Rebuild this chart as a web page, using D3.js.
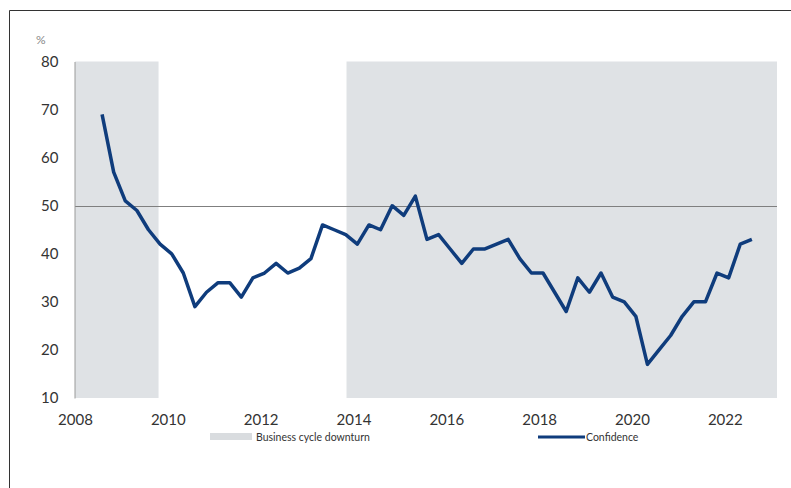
<!DOCTYPE html>
<html>
<head>
<meta charset="utf-8">
<script src="https://cdn.jsdelivr.net/npm/d3@7"></script>
<style>
  html, body { margin: 0; padding: 0; background: #fff; }
  svg { display: block; }
  text { font-family: Lato, "Open Sans", sans-serif; }
</style>
</head>
<body>
<svg id="chart" width="791" height="488"></svg>
<script>
// ---- data ----
const startYear = 2008 + 7 / 12;           // first quarterly observation (Q3 2008)
const confidence = [
  69, 57, 51, 49, 45, 42, 40, 36, 29, 32,
  34, 34, 31, 35, 36, 38, 36, 37, 39, 46,
  45, 44, 42, 46, 45, 50, 48, 52, 43, 44,
  41, 38, 41, 41, 42, 43, 39, 36, 36, 32,
  28, 35, 32, 36, 31, 30, 27, 17, 20, 23,
  27, 30, 30, 36, 35, 42, 43
];
const downturns = [[2008, 2009.8], [2013.85, 2023.125]];
const xTicks = [2008, 2010, 2012, 2014, 2016, 2018, 2020, 2022];
const yTicks = [10, 20, 30, 40, 50, 60, 70, 80];
const refLevel = 50;
const legendLabels = ["Business cycle downturn", "Confidence"];

// ---- chart ----
const svg = d3.select("#chart");
const x = d3.scaleLinear().domain([2008, 2023.125]).range([75, 777]);
const y = d3.scaleLinear().domain([10, 80]).range([398, 61.5]);

// frame
svg.append("path").attr("d", "M9.5,488 V10.5 H791")
  .attr("fill", "none").attr("stroke", "#333").attr("stroke-width", 1);

// shaded downturns
svg.selectAll("rect.shade").data(downturns).enter().append("rect")
  .attr("class", "shade")
  .attr("x", d => x(d[0]))
  .attr("width", d => x(d[1]) - x(d[0]))
  .attr("y", y(80))
  .attr("height", y(10) - y(80))
  .attr("fill", "#dfe2e5");

// reference line at 50
svg.append("line")
  .attr("x1", x(2008)).attr("x2", x(2023.125))
  .attr("y1", Math.round(y(refLevel)) + 0.5).attr("y2", Math.round(y(refLevel)) + 0.5)
  .attr("stroke", "#7f7f7f").attr("stroke-width", 1);

// y axis
const yAxis = d3.axisLeft(y).tickValues(yTicks).tickSize(0).tickPadding(16);
const gy = svg.append("g").attr("transform", "translate(74.5,0)").call(yAxis);
gy.select(".domain").attr("stroke", "#9a9a9a");
gy.selectAll("text").attr("font-size", 15).attr("fill", "#333");

// x axis (labels only)
const xAxis = d3.axisBottom(x).tickValues(xTicks).tickFormat(d3.format("d")).tickSize(0).tickPadding(16);
const gx = svg.append("g").attr("transform", "translate(0,398)").call(xAxis);
gx.select(".domain").remove();
gx.selectAll("text").attr("font-size", 15).attr("fill", "#333");

// unit label
svg.append("text").attr("x", 36).attr("y", 44).text("%")
  .attr("font-size", 12).attr("fill", "#888");

// confidence line
const line = d3.line()
  .x((d, i) => x(startYear + i * 0.25))
  .y(d => y(d));
svg.append("path").datum(confidence)
  .attr("d", line)
  .attr("fill", "none")
  .attr("stroke", "#0f3c7c")
  .attr("stroke-width", 3.5)
  .attr("stroke-linejoin", "round");

// legend
svg.append("rect").attr("x", 210).attr("y", 433).attr("width", 42).attr("height", 7)
  .attr("fill", "#d9dcdf");
svg.append("text").attr("x", 256).attr("y", 440.5).text(legendLabels[0])
  .attr("font-size", 10.5).attr("fill", "#333");
svg.append("line").attr("x1", 538).attr("x2", 585).attr("y1", 437).attr("y2", 437)
  .attr("stroke", "#0f3c7c").attr("stroke-width", 3);
svg.append("text").attr("x", 586).attr("y", 440.5).text(legendLabels[1])
  .attr("font-size", 10.5).attr("fill", "#333");
</script>
</body>
</html>
